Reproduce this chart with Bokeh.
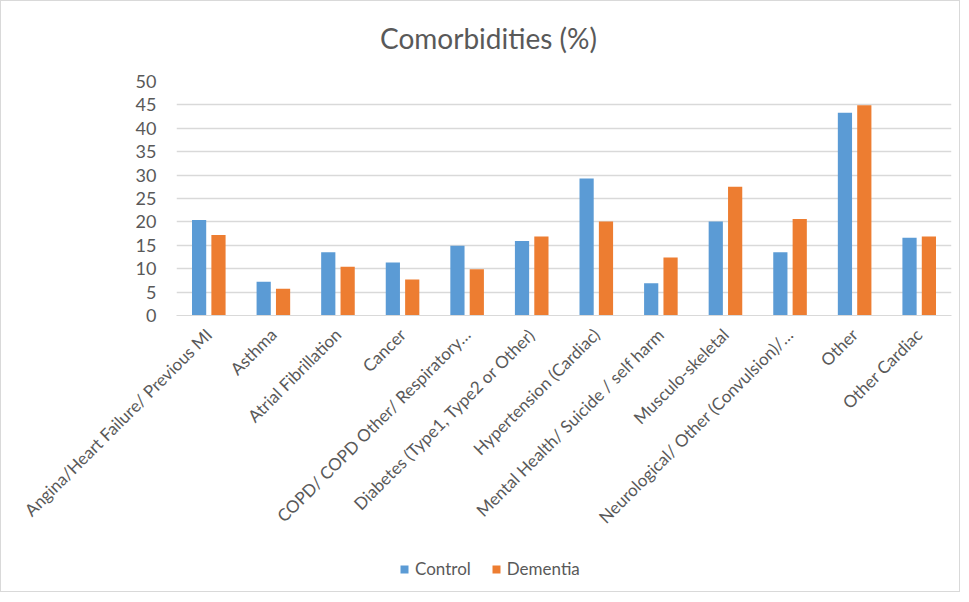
from bokeh.plotting import figure
from bokeh.layouts import column
from bokeh.models import (FactorRange, Range1d, Legend, LegendItem, ColumnDataSource,
                          SingleIntervalTicker, Label)
from bokeh.transform import dodge
from bokeh.embed import file_html
from bokeh.resources import INLINE
from math import pi

categories = [
    "Angina/Heart Failure/ Previous MI",
    "Asthma",
    "Atrial Fibrillation",
    "Cancer",
    "COPD/ COPD Other/ Respiratory…",
    "Diabetes (Type1, Type2 or Other)",
    "Hypertension (Cardiac)",
    "Mental Health/ Suicide / self harm",
    "Musculo-skeletal",
    "Neurological/ Other (Convulsion)/…",
    "Other",
    "Other Cardiac",
]
control = [20.4, 7.2, 13.5, 11.3, 14.9, 15.9, 29.3, 6.9, 20.1, 13.5, 43.3, 16.6]
dementia = [17.2, 5.7, 10.4, 7.7, 9.9, 16.9, 20.1, 12.4, 27.5, 20.6, 44.9, 16.9]
series_names = ["Control", "Dementia"]
colors = ["#5B9BD5", "#ED7D31"]
title_text = "Comorbidities (%)"

FONT = "Lato"
TXT = "#595959"
BORDER = "1px solid #D9D9D9"

src = ColumnDataSource(dict(cat=categories, control=control, dementia=dementia))

W, H0, H1, H2 = 960, 60, 490, 42
LB = 175
FRAME_H = 234
TB = 81 - H0

# ---- title strip
tf = figure(width=W, height=H0, x_range=Range1d(0, 1), y_range=Range1d(0, 1),
            output_backend="svg", toolbar_location=None,
            x_axis_location=None, y_axis_location=None,
            min_border_left=0, min_border_right=0, min_border_top=0, min_border_bottom=0)
tf.styles = {"border-top": BORDER, "border-left": BORDER, "border-right": BORDER,
             "box-sizing": "border-box"}
tf.outline_line_color = None
tf.xgrid.grid_line_color = None
tf.ygrid.grid_line_color = None
tf.add_layout(Label(x=312, y=H0 - 36, x_units="screen", y_units="screen", text=title_text,
                    text_font=FONT, text_font_size="28px", text_color=TXT,
                    text_align="center", text_baseline="middle"))

# ---- main chart
p = figure(
    width=W, height=H1,
    x_range=FactorRange(factors=categories, range_padding=0),
    y_range=Range1d(0, 50),
    output_backend="svg", toolbar_location=None,
    min_border_left=LB, min_border_right=10, min_border_top=TB,
    min_border_bottom=H1 - TB - FRAME_H,
)
p.styles = {"border-left": BORDER, "border-right": BORDER, "box-sizing": "border-box"}
p.outline_line_color = None
p.background_fill_color = "white"
p.border_fill_color = "white"

p.vbar(x=dodge("cat", -0.15, range=p.x_range), top="control", width=0.22,
       source=src, fill_color=colors[0], line_color=None)
p.vbar(x=dodge("cat", 0.15, range=p.x_range), top="dementia", width=0.22,
       source=src, fill_color=colors[1], line_color=None)

p.yaxis.ticker = SingleIntervalTicker(interval=5)
p.yaxis.axis_line_color = None
p.yaxis.major_tick_line_color = None
p.yaxis.minor_tick_line_color = None
p.yaxis.major_label_text_font = FONT
p.yaxis.major_label_text_font_size = "18px"
p.yaxis.major_label_text_color = TXT
p.yaxis.major_label_standoff = 14

p.xaxis.axis_line_color = "#D9D9D9"
p.xaxis.major_tick_line_color = None
p.xaxis.minor_tick_line_color = None
p.xaxis.major_label_orientation = pi / 4
p.xaxis.major_label_text_font = FONT
p.xaxis.major_label_text_font_size = "17px"
p.xaxis.major_label_text_color = TXT
p.xaxis.major_label_standoff = 10

p.xgrid.grid_line_color = None
p.ygrid.grid_line_color = "#D9D9D9"
p.ygrid.grid_line_width = 1.3
p.ygrid.ticker = SingleIntervalTicker(interval=5)

# ---- legend strip (same series, renderers hidden; only the legend is shown)
leg = figure(width=W, height=H2, x_range=FactorRange(factors=categories),
             y_range=Range1d(0, 50), output_backend="svg", toolbar_location=None,
             x_axis_location=None, y_axis_location=None,
             min_border_left=0, min_border_right=0, min_border_top=0, min_border_bottom=0)
leg.styles = {"border-bottom": BORDER, "border-left": BORDER, "border-right": BORDER,
              "box-sizing": "border-box"}
leg.outline_line_color = None
leg.xgrid.grid_line_color = None
leg.ygrid.grid_line_color = None
l1 = leg.vbar(x=dodge("cat", -0.15, range=leg.x_range), top="control", width=0.22,
              source=src, fill_color=colors[0], line_color=None, visible=False)
l2 = leg.vbar(x=dodge("cat", 0.15, range=leg.x_range), top="dementia", width=0.22,
              source=src, fill_color=colors[1], line_color=None, visible=False)

legend = Legend(items=[LegendItem(label=series_names[0], renderers=[l1]),
                       LegendItem(label=series_names[1], renderers=[l2])],
                orientation="horizontal", location=(223, 13),
                border_line_color=None, background_fill_alpha=0,
                inactive_fill_alpha=0,
                label_text_font=FONT, label_text_font_size="17px", label_text_color=TXT,
                glyph_width=10, glyph_height=10, label_standoff=6, spacing=20,
                padding=0, margin=0)
leg.add_layout(legend, "center")

layout = column(tf, p, leg, spacing=0)
open("out.html", "w").write(file_html(layout, INLINE))
